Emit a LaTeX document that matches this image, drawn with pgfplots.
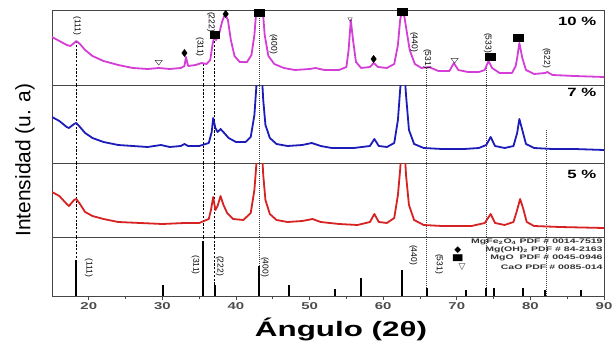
\documentclass[border=0pt]{standalone}
\usepackage{fontspec}
\setmainfont{Liberation Sans}
\newfontfamily\dejavu{DejaVu Sans}
\usepackage{pgfplots}
\pgfplotsset{compat=1.18}
\definecolor{cmag}{RGB}{212,62,214}
\definecolor{cblue}{RGB}{28,28,185}
\definecolor{cred}{RGB}{214,34,34}
\definecolor{frame}{RGB}{70,70,70}
\pgfplotsset{
  panel/.style={scale only axis, width=552bp, xmin=15, xmax=90, xtick=\empty, ytick=\empty,
    axis line style={frame, line width=0.9bp}, anchor=north west, ymin=0},
  refl/.style={black, line width=0.55bp, dash pattern=on 2.2bp off 1.6bp, forget plot},
  refd/.style={black!75, line width=0.55bp, dash pattern=on 0.8bp off 1.2bp, forget plot},
  curve/.style={line width=1.8bp, line join=round},
}
\newcommand{\hkl}[1]{\fontsize{8.5}{8.5}\selectfont #1}
\begin{document}
\begin{tikzpicture}
\useasboundingbox (-52bp,10bp) rectangle (560bp,-332bp);
% ---------------- 10 % ----------------
\begin{axis}[panel, at={(0bp,0bp)}, height=75bp, ymax=75]
\addplot[refl] coordinates {(18.3,0) (18.3,44)};
\addplot[refl] coordinates {(35.5,0) (35.5,22)};
\addplot[refl] coordinates {(37.0,0) (37.0,47)};
\addplot[refd] coordinates {(43.2,0) (43.2,75)};
\addplot[refd] coordinates {(65.9,0) (65.9,17)};
\addplot[refd] coordinates {(74.0,0) (74.0,22)};
\addplot[curve, cmag] coordinates {
(15.0,48)(16.0,44)(17.0,40)(17.5,39)(18.0,42)(18.3,44)(18.8,41)(19.5,35)(20.5,29)(22,24)(24,20)(26,17)(28,16)(29.5,17)(31,16)(32.5,17)
(33.0,19)(33.2,28)(33.5,19)(34.5,20)(35.3,22)(36.0,21)(36.5,25)(36.8,40)(37.0,47)(37.3,45)(37.7,51)(38.1,63)(38.5,71)(38.9,65)(39.3,45)(39.8,29)
(40.5,23)(41.5,23)(42.1,30)(42.5,50)(42.8,78)(43.0,90)(43.4,90)(43.6,78)(43.9,50)(44.4,29)(45.2,21)(46.5,17)(48,15)(50.0,16)(50.8,17)(52,15)(54,15)
(55.0,18)(55.3,35)(55.6,65)(55.9,45)(56.3,23)(57,17)(58.2,18)(58.7,22)(59.3,18)(60.5,17)(61.5,21)(62.0,40)(62.3,65)(62.5,72)(62.8,72)(63.1,58)
(63.6,35)(64.3,21)(65.2,17)(66.2,18)(67.5,14)(69.0,14)(69.6,22)(70.2,15)(71.5,13)(73.0,13)(73.8,15)(74.3,24)(74.8,17)(75.8,12)(77.5,12)
(78.0,19)(78.2,27)(78.5,42)(78.9,27)(79.4,15)(80.5,11)(82.0,12)(82.3,13)(83,10)(86,9)(90,8)};
\addplot[only marks, mark=square*, mark size=3.4bp, mark options={xscale=1.45, black}] coordinates {(37.1,50)(43.1,72)(62.6,73)(74.5,28)(78.4,47)};
\addplot[only marks, mark=diamond*, mark size=3.6bp, mark options={black}] coordinates {(33.0,32)(38.6,71)(58.7,26)};
\addplot[only marks, mark=triangle, mark size=3.2bp, mark options={rotate=180, black!80, xscale=1.3}] coordinates {(29.5,23)(69.7,25)};
\addplot[only marks, mark=triangle, mark size=2.6bp, mark options={rotate=180, black!80}] coordinates {(55.5,66)};
\node[rotate=-90, font=\hkl] at (axis cs:18.4,59) {(111)};
\node[rotate=-90, font=\hkl] at (axis cs:35.1,38) {(311)};
\node[rotate=-90, font=\hkl] at (axis cs:36.6,63) {(222)};
\node[rotate=-90, font=\hkl] at (axis cs:45.1,41) {(400)};
\node[rotate=-90, font=\hkl] at (axis cs:64.2,43) {(440)};
\node[rotate=-90, font=\hkl] at (axis cs:66.0,26) {(531)};
\node[rotate=-90, font=\hkl] at (axis cs:74.2,42) {(533)};
\node[rotate=-90, font=\hkl] at (axis cs:82.2,27) {(622)};
\node[anchor=east, font=\bfseries\fontsize{12}{12}\selectfont, xscale=1.4] at (rel axis cs:0.995,0.85) {10 \%};
\end{axis}
% ---------------- 7 % ----------------
\begin{axis}[panel, at={(0bp,-75bp)}, height=78bp, ymax=78]
\addplot[refl] coordinates {(18.3,0) (18.3,78)};
\addplot[refl] coordinates {(35.5,0) (35.5,78)};
\addplot[refl] coordinates {(37.0,0) (37.0,78)};
\addplot[refd] coordinates {(43.2,0) (43.2,78)};
\addplot[refd] coordinates {(65.9,0) (65.9,78)};
\addplot[refd] coordinates {(74.0,0) (74.0,78)};
\addplot[refd] coordinates {(82.2,0) (82.2,33)};
\addplot[curve, cblue] coordinates {
(15.0,46)(16.0,42)(17.0,36)(17.3,35)(18.0,39)(18.3,40)(18.8,36)(19.5,30)(20.5,25)(22,21)(24,18)(26,17)(28,16)(29.8,18)(31,16)(32.5,17)
(33.0,19)(33.5,17)(35,17)(36.3,20)(36.7,31)(36.9,45)(37.2,35)(37.5,31)(37.9,34)(38.4,30)(39,25)(40,21)(41.3,21)(42.0,26)(42.5,48)(42.8,80)
(43.0,90)(43.5,90)(43.7,63)(44.0,38)(44.6,25)(45.5,19)(47,17)(49,18)(50.3,20)(51.5,17)(53,15)(56,15)(58.2,17)(58.8,24)(59.4,17)(60.5,16)
(61.5,20)(62.0,43)(62.3,73)(62.5,90)(62.9,90)(63.1,68)(63.5,33)(64.2,19)(65.5,15)(68,14)(71,14)(73.0,15)(74.0,18)(74.6,26)(75.2,17)(76.5,15)
(77.7,17)(78.2,30)(78.5,44)(78.9,33)(79.4,19)(80.5,15)(83,14)(86,14)(90,13)};
\node[anchor=east, font=\bfseries\fontsize{12}{12}\selectfont, xscale=1.4] at (rel axis cs:0.995,0.9) {7 \%};
\end{axis}
% ---------------- 5 % ----------------
\begin{axis}[panel, at={(0bp,-153bp)}, height=74bp, ymax=74]
\addplot[refl] coordinates {(18.3,0) (18.3,74)};
\addplot[refl] coordinates {(35.5,0) (35.5,74)};
\addplot[refl] coordinates {(37.0,0) (37.0,74)};
\addplot[refd] coordinates {(43.2,0) (43.2,74)};
\addplot[refd] coordinates {(65.9,0) (65.9,74)};
\addplot[refd] coordinates {(74.0,0) (74.0,74)};
\addplot[refd] coordinates {(82.2,0) (82.2,74)};
\addplot[curve, cred] coordinates {
(15.0,45)(16.0,41)(17.0,33)(17.3,31)(18.0,37)(18.3,38)(18.8,33)(19.5,25)(20.5,21)(22,18)(24,15)(27,14)(30,13)(33,14)(35,14)(36.3,18)
(36.6,27)(36.9,40)(37.2,27)(37.5,31)(37.9,41)(38.3,32)(38.8,24)(39.6,18)(41.0,17)(42.0,24)(42.5,47)(42.8,76)(43.0,90)(43.5,90)(43.7,62)
(44.0,37)(44.6,23)(45.5,17)(47,15)(49,16)(50.4,18)(51.5,15)(54,13)(56.5,12)(58.2,15)(58.8,23)(59.4,15)(60.5,14)(61.5,19)(62.0,42)(62.3,67)
(62.5,90)(62.9,90)(63.1,62)(63.5,32)(64.2,17)(65.5,12)(68,11)(72,11)(73.8,14)(74.6,23)(75.2,14)(76.5,12)(77.7,15)(78.2,27)(78.6,38)(79.0,29)
(79.5,15)(80.5,11)(84,10)(90,9)};
\node[anchor=east, font=\bfseries\fontsize{12}{12}\selectfont, xscale=1.4] at (rel axis cs:0.995,0.84) {5 \%};
\end{axis}
% ---------------- reference pattern ----------------
\begin{axis}[panel, at={(0bp,-227bp)}, height=59bp, ymax=59,
  xtick={20,30,...,90}, minor xtick={25,35,...,85}, xtick pos=bottom, tick align=outside,
  major tick length=3.5bp, minor tick length=2.5bp, tick style={frame, line width=0.8bp},
  xticklabel style={font=\bfseries\fontsize{10}{10}\selectfont, text=black!70, xscale=1.5},
  /pgf/number format/assume math mode=true]
\addplot[refl] coordinates {(18.3,0) (18.3,59)};
\addplot[refl] coordinates {(35.5,0) (35.5,59)};
\addplot[refl] coordinates {(37.0,0) (37.0,59)};
\addplot[refd] coordinates {(43.2,0) (43.2,59)};
\addplot[refd] coordinates {(65.9,0) (65.9,59)};
\addplot[refd] coordinates {(74.0,0) (74.0,59)};
\addplot[refd] coordinates {(82.2,0) (82.2,59)};
\addplot[ycomb, black, line width=2.2bp] coordinates {
(18.3,36)(30.1,11)(35.5,55)(37.1,11)(43.1,30)(47.2,11)(53.4,7)(57.0,18)(62.6,26)(65.9,8)(71.2,6)(74.0,8)(75.1,8)(79.0,8)(82.0,6)(86.9,6)};
\node[rotate=-90, font=\hkl] at (axis cs:20.0,28) {(111)};
\node[rotate=-90, font=\hkl] at (axis cs:34.5,31) {(311)};
\node[rotate=-90, font=\hkl] at (axis cs:37.8,30) {(222)};
\node[rotate=-90, font=\hkl] at (axis cs:43.9,29) {(400)};
\node[rotate=-90, font=\hkl] at (axis cs:64.1,41) {(440)};
\node[rotate=-90, font=\hkl] at (axis cs:67.6,32) {(531)};
\begin{scope}[every node/.style={font=\bfseries\fontsize{6.6}{6.6}\selectfont, text=black!80, xscale=1.6, inner sep=0pt}]
\node[anchor=east] at (rel axis cs:0.998,0.915) {MgFe\textsubscript{2}O\textsubscript{4} PDF \# 0014-7519};
\node[anchor=east] at (rel axis cs:0.998,0.78) {Mg(OH)\textsubscript{2} PDF \# 84-2163};
\node[anchor=east] at (rel axis cs:0.998,0.644) {MgO\ \ PDF \# 0045-0946};
\node[anchor=east] at (rel axis cs:0.998,0.49) {CaO PDF \# 0085-014};
\end{scope}
\begin{scope}[every node/.style={font=\fontsize{9}{9}\selectfont, text=black, inner sep=0pt}]
\node at (rel axis cs:0.735,0.78) {\dejavu ◆};
\node[xscale=1.4] at (rel axis cs:0.735,0.644) {\dejavu ■};
\node[text=black!80] at (rel axis cs:0.743,0.49) {\dejavu ▽};
\end{scope}
\end{axis}
\node[rotate=90, font=\fontsize{21}{21}\selectfont] at (-27bp,-150bp) {Intensidad (u. a)};
\node[font=\bfseries\fontsize{21}{21}\selectfont, xscale=1.5] at (289bp,-319bp) {Ángulo (2θ)};
\end{tikzpicture}
\end{document}
